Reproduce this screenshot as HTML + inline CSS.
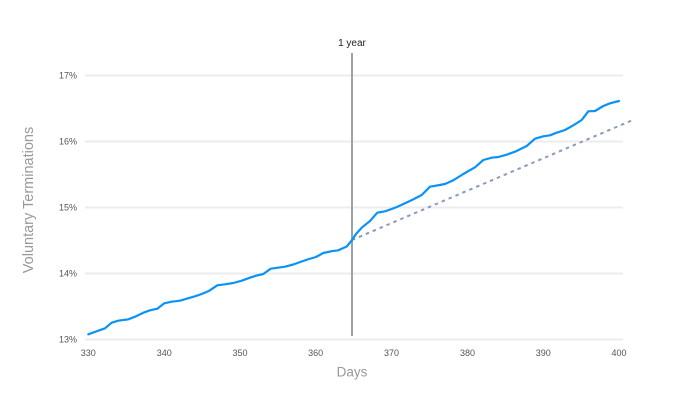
<!DOCTYPE html>
<html>
<head>
<meta charset="utf-8">
<style>
  html,body{margin:0;padding:0;background:#fff;}
  svg{display:block;}
  text{font-family:"Liberation Sans",Arial,sans-serif;}
</style>
</head>
<body>
<svg width="700" height="400" viewBox="0 0 700 400" xmlns="http://www.w3.org/2000/svg">
  <rect width="700" height="400" fill="#fff"/>
  <!-- gridlines -->
  <g stroke="#ececec" stroke-width="2">
    <line x1="85" y1="75.5" x2="623" y2="75.5"/>
    <line x1="85" y1="141.5" x2="623" y2="141.5"/>
    <line x1="85" y1="207.5" x2="623" y2="207.5"/>
    <line x1="85" y1="273.5" x2="623" y2="273.5"/>
    <line x1="85" y1="339.5" x2="623" y2="339.5"/>
  </g>
  <!-- y tick labels -->
  <g font-size="9" fill="#555" text-anchor="end">
    <text x="77" y="78.7">17%</text>
    <text x="77" y="144.7">16%</text>
    <text x="77" y="210.7">15%</text>
    <text x="77" y="276.7">14%</text>
    <text x="77" y="342.7">13%</text>
  </g>
  <!-- x tick labels -->
  <g font-size="9" fill="#555" text-anchor="middle">
    <text x="88.3" y="356">330</text>
    <text x="164.3" y="356">340</text>
    <text x="240" y="356">350</text>
    <text x="315.7" y="356">360</text>
    <text x="391.5" y="356">370</text>
    <text x="467.5" y="356">380</text>
    <text x="543.3" y="356">390</text>
    <text x="619" y="356">400</text>
  </g>
  <!-- axis titles -->
  <text x="352" y="376.5" font-size="13.5" fill="#999" text-anchor="middle">Days</text>
  <text transform="translate(33,200) rotate(-90)" font-size="14.5" fill="#999" text-anchor="middle">Voluntary Terminations</text>
  <!-- 1 year marker -->
  <line x1="352" y1="53" x2="352" y2="336" stroke="#9aa3ab" stroke-width="2"/>
  <text x="352" y="46" font-size="10" fill="#222" text-anchor="middle">1 year</text>
  <!-- dotted trend -->
  <line x1="352" y1="240" x2="634" y2="119.5" stroke="#8a9bbd" stroke-width="2" stroke-dasharray="3.5 4"/>
  <!-- blue series -->
  <polyline fill="none" stroke="#0a93f5" stroke-width="2.2" stroke-linejoin="round" stroke-linecap="round"
    points="88.3,334.3 96,331.5 105,328.3 111.7,322.7 118.3,320.7 128.3,319.3 135,316.7 143.3,312.7 150,310.3 157.3,308.7 164.3,303.3 171.7,301.7 180,300.7 186.7,298.7 195,296.3 201.7,294 209.3,290.7 217.3,285.3 225,284.3 233.3,283 241.7,280.7 250,277.7 256,275.7 263.3,274 270.7,268.7 278,267.7 285,266.7 293.3,264.5 301.7,261.5 309,259 316,257 323.3,253 331.7,251.2 338.3,250.3 346.7,246.5 351.7,240.5 356,234 361.7,227.7 370,221 377.3,212.7 385,211.3 391.7,209 398,206.5 405,203.3 413,199.5 421.7,195 430,186.7 437,185.5 445,184 453.3,180.3 463.3,174 475,167.3 483.3,160 491.7,157.7 498.3,157 506.7,154.7 515,151.7 526.7,146 535,138.7 543.3,136.3 550,135.3 556.7,132.7 565,130 573.3,125.3 581.7,120 588.3,111.3 595,111 603.3,106 610,103.3 619,101"/>
</svg>
</body>
</html>
